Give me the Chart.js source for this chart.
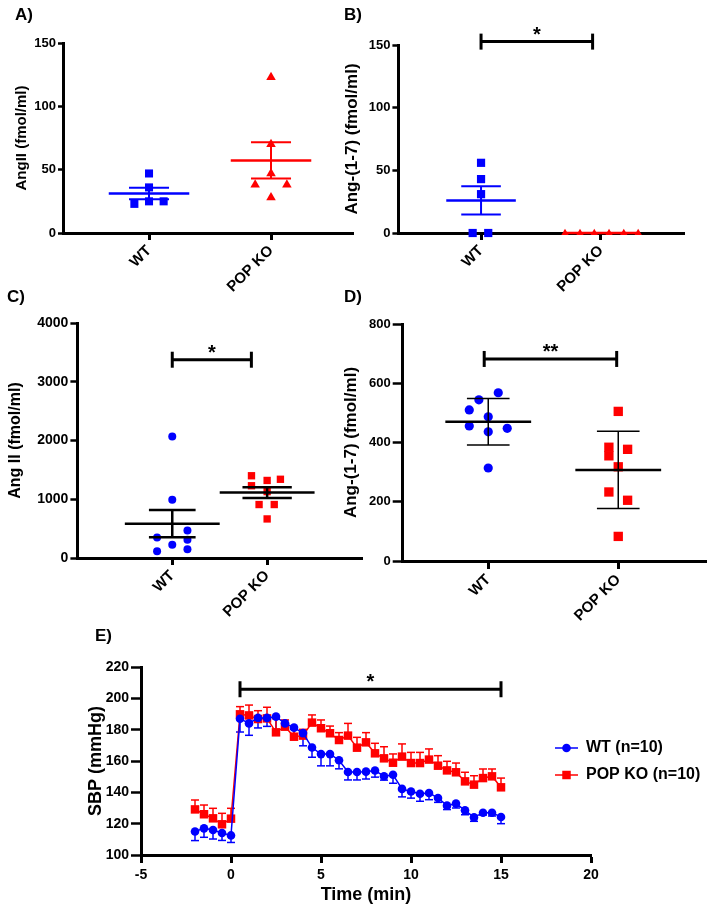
<!DOCTYPE html>
<html>
<head>
<meta charset="utf-8">
<script src="https://cdn.jsdelivr.net/npm/chart.js@4.4.1/dist/chart.umd.min.js"></script>
<style>
  html, body { margin: 0; padding: 0; background: #fff; }
  #wrap { position: relative; width: 713px; height: 913px; overflow: hidden; }
  #wrap canvas { position: absolute; left: 0; top: 0; }
</style>
</head>
<body>
<div id="wrap">
  <canvas id="chartA" width="713" height="913"></canvas>
  <canvas id="chartB" width="713" height="913"></canvas>
  <canvas id="chartC" width="713" height="913"></canvas>
  <canvas id="chartD" width="713" height="913"></canvas>
  <canvas id="chartE" width="713" height="913"></canvas>
</div>
<script>
// groups on the dot plots (x = 1, 2)
const groupLabels = ['WT', 'POP KO'];

// A) plasma AngII
const angII_WT = [47, 36, 23, 25, 25];
const angII_WT_jitter = [0, 0, -0.12, 0, 0.12];
const angII_KO = [123, 70, 47, 38, 38, 28];
const angII_KO_jitter = [0, 0, 0, -0.13, 0.13, 0];

// B) plasma Ang-(1-7)
const ang17_WT = [56, 43, 31, 0, 0];
const ang17_WT_jitter = [0, 0, 0, -0.07, 0.06];
const ang17_KO = [0, 0, 0, 0, 0, 0];
const ang17_KO_jitter = [-0.3, -0.175, -0.056, 0.067, 0.19, 0.31];

// C) Ang II
const angIIc_WT = [2070, 990, 470, 350, 310, 225, 150, 115];
const angIIc_WT_jitter = [0, 0, 0.16, -0.16, 0.16, 0, 0.16, -0.16];
const angIIc_KO = [1400, 1320, 1340, 1230, 1130, 910, 910, 665];
const angIIc_KO_jitter = [-0.165, 0, 0.14, -0.165, 0, -0.085, 0.075, 0];

// D) Ang-(1-7)
const ang17d_WT = [568, 544, 510, 487, 456, 448, 436, 314];
const ang17d_WT_jitter = [0.077, -0.072, -0.146, 0, -0.146, 0.146, 0, 0];
const ang17d_KO = [505, 384, 355, 377, 318, 233, 205, 83];
const ang17d_KO_jitter = [0, -0.072, -0.072, 0.072, 0, -0.072, 0.072, 0];

// E) SBP time course
const timeMin = [-2, -1.5, -1, -0.5, 0, 0.5, 1, 1.5, 2, 2.5, 3, 3.5, 4, 4.5, 5, 5.5, 6, 6.5, 7, 7.5,
  8, 8.5, 9, 9.5, 10, 10.5, 11, 11.5, 12, 12.5, 13, 13.5, 14, 14.5, 15];
const sbpWT = [115, 117, 116, 114, 112.5, 187, 184, 187.5, 187.5, 188.3, 184, 181.3, 177.8, 168.6, 164.4,
  164.4, 160.5, 153, 153, 153.2, 153.9, 150.3, 151.2, 142.2, 140.5, 139.1, 139.6, 136.4, 131.5, 132.8,
  128.5, 124, 127, 127, 124.3];
const sbpWT_sem = [5.8, 5.7, 5.8, 4.7, 4.5, 8.5, 7.6, 6.4, 5.4, 8.5, 3.8, 4.7, 8.1, 6.2, 7.5,
  7.5, 5.5, 5.1, 5.1, 4.7, 4.2, 2.5, 5.4, 5.1, 4.2, 4.8, 4.3, 2.8, 2.5, 2.8,
  2.8, 2.5, 1.5, 2.1, 4.3];
const sbpKO = [129.1, 126, 123.4, 119.6, 123.2, 189.8, 189.1, 186.8, 187.2, 178.3, 181.9, 175.5, 176.2, 184.5, 180.9,
  177.7, 173.4, 176.2, 168.5, 171.9, 164.9, 161.7, 158.9, 162.8, 158.7, 158.7, 160.9, 157, 154, 152.8,
  147, 144.9, 149.1, 150.2, 143.2];
const sbpKO_sem = [6, 5.9, 6.4, 7, 6.6, 4.9, 6.6, 5.3, 7.1, 8.7, 4.3, 4.7, 4, 4.9, 5.3,
  4.6, 4.7, 7.8, 6.6, 6.2, 6.4, 7.4, 5.6, 8.1, 6.8, 6.8, 6.8, 6.4, 5.8, 5.9,
  5.8, 5.7, 5.8, 4.7, 5.9];

const BLUE = '#0000ff';
const RED = '#ff0000';
const FONT = "'Liberation Sans', Arial, Helvetica, sans-serif";

Chart.defaults.font.family = FONT;
Chart.defaults.font.weight = 'bold';
Chart.defaults.color = '#000';

function mean(a) { return a.reduce((s, v) => s + v, 0) / a.length; }
function sd(a) {
  const m = mean(a);
  return Math.sqrt(a.reduce((s, v) => s + (v - m) * (v - m), 0) / (a.length - 1));
}
function sem(a) { return sd(a) / Math.sqrt(a.length); }
function points(vals, at, jitter) { return vals.map((v, i) => ({ x: at + jitter[i], y: v })); }

function segment(ctx, x1, y1, x2, y2) {
  ctx.beginPath();
  ctx.moveTo(x1, y1);
  ctx.lineTo(x2, y2);
  ctx.stroke();
}

function marker(ctx, style, r, x, y) {
  ctx.beginPath();
  if (style === 'rect') {
    const s = r * Math.SQRT1_2;
    ctx.rect(x - s, y - s, 2 * s, 2 * s);
  } else {
    ctx.arc(x, y, r, 0, Math.PI * 2);
  }
  ctx.fill();
}

// mean / error bars, significance brackets, panel letters, legend
const figureExtras = {
  id: 'figureExtras',
  beforeDatasetsDraw(chart, args, o) {
    if (!o.errorBars) return;
    const { ctx, scales: { x, y } } = chart;
    ctx.save();
    o.errorBars.forEach(eb => {
      const ds = chart.data.datasets[eb.dataset];
      ctx.strokeStyle = ds.borderColor;
      ctx.lineWidth = eb.width;
      ds.data.forEach((p, i) => {
        const px = x.getPixelForValue(p.x);
        const p0 = y.getPixelForValue(p.y);
        const p1 = y.getPixelForValue(p.y + eb.dir * eb.values[i]);
        segment(ctx, px, p0, px, p1);
        segment(ctx, px - eb.cap, p1, px + eb.cap, p1);
      });
    });
    ctx.restore();
  },
  afterDatasetsDraw(chart, args, o) {
    const { ctx, scales: { x, y } } = chart;
    ctx.save();
    (o.groups || []).forEach(g => {
      const cx = x.getPixelForValue(g.at);
      ctx.strokeStyle = g.color;
      if (g.err > 0) {
        const yh = y.getPixelForValue(g.mean + g.err);
        const yl = y.getPixelForValue(g.mean - g.err);
        const c1 = x.getPixelForValue(g.at - g.cap);
        const c2 = x.getPixelForValue(g.at + g.cap);
        ctx.lineWidth = g.errWidth;
        segment(ctx, cx, yh, cx, yl);
        segment(ctx, c1, yh, c2, yh);
        segment(ctx, c1, yl, c2, yl);
      }
      const ym = y.getPixelForValue(g.mean);
      ctx.lineWidth = g.meanWidth;
      segment(ctx, x.getPixelForValue(g.at - g.half), ym, x.getPixelForValue(g.at + g.half), ym);
    });
    const b = o.bracket;
    if (b) {
      const x1 = x.getPixelForValue(b.from);
      const x2 = x.getPixelForValue(b.to);
      const by = y.getPixelForValue(b.at);
      ctx.strokeStyle = '#000';
      ctx.lineWidth = 3;
      segment(ctx, x1, by, x2, by);
      segment(ctx, x1, by - 8, x1, by + 8);
      segment(ctx, x2, by - 8, x2, by + 8);
      ctx.fillStyle = '#000';
      ctx.font = 'bold 20px ' + FONT;
      ctx.textAlign = 'center';
      ctx.textBaseline = 'alphabetic';
      ctx.fillText(b.label, (x1 + x2) / 2, by - 1);
    }
    ctx.restore();
  },
  afterDraw(chart, args, o) {
    const ctx = chart.ctx;
    ctx.save();
    if (o.caption) {
      ctx.fillStyle = '#000';
      ctx.font = 'bold 17px ' + FONT;
      ctx.textAlign = 'left';
      ctx.textBaseline = 'alphabetic';
      ctx.fillText(o.caption.text, o.caption.x, o.caption.y);
    }
    (o.legend || []).forEach(item => {
      const ds = chart.data.datasets[item.dataset];
      ctx.strokeStyle = ds.borderColor;
      ctx.fillStyle = ds.pointBackgroundColor;
      ctx.lineWidth = ds.borderWidth;
      segment(ctx, item.x, item.y, item.x + 23, item.y);
      marker(ctx, ds.pointStyle, ds.pointRadius, item.x + 11.5, item.y);
      ctx.fillStyle = '#000';
      ctx.font = 'bold 16px ' + FONT;
      ctx.textAlign = 'left';
      ctx.textBaseline = 'middle';
      ctx.fillText(ds.label, item.x + 31, item.y);
    });
    ctx.restore();
  }
};

function valueAxis(min, max, step, title, titleSize, width, tickLen, tickFont) {
  return {
    min: min, max: max,
    ticks: { stepSize: step, font: { size: tickFont, weight: 'bold' }, color: '#000', padding: 2,
      callback: v => String(v) },
    grid: { drawOnChartArea: false, drawTicks: true, tickLength: tickLen, tickWidth: 2.5, tickColor: '#000' },
    border: { display: true, width: 3, color: '#000' },
    title: { display: true, text: title, color: '#000', padding: 0,
      font: { size: titleSize, weight: 'bold', lineHeight: 1.2 } },
    afterFit: s => { s.width = width; }
  };
}

function groupAxis(min, max, tickLen) {
  return {
    type: 'linear', min: min, max: max,
    afterBuildTicks: s => { s.ticks = groupLabels.map((_, i) => ({ value: i + 1 })); },
    ticks: { autoSkip: false, minRotation: 45, maxRotation: 45, padding: 2, color: '#000',
      font: { size: 15, weight: 'bold' }, callback: v => groupLabels[v - 1] },
    grid: { drawOnChartArea: false, drawTicks: true, tickLength: tickLen, tickWidth: 3, tickColor: '#000' },
    border: { display: true, width: 3, color: '#000' },
    afterFit: s => { s.height = 60; }
  };
}

function dotSet(vals, at, jitter, style, r, color) {
  return {
    data: points(vals, at, jitter), pointStyle: style, pointRadius: r,
    pointBackgroundColor: color, borderColor: color, pointBorderWidth: 0, showLine: false, clip: false
  };
}

function dotPlot(id, cfg) {
  return new Chart(document.getElementById(id), {
    type: 'scatter',
    data: { datasets: cfg.datasets },
    options: {
      responsive: false, animation: false, events: [],
      layout: { padding: cfg.padding },
      plugins: { legend: { display: false }, tooltip: { enabled: false }, figureExtras: cfg.extras },
      scales: { x: cfg.x, y: cfg.y }
    },
    plugins: [figureExtras]
  });
}

// A
dotPlot('chartA', {
  datasets: [
    dotSet(angII_WT, 1, angII_WT_jitter, 'rect', 5.7, BLUE),
    dotSet(angII_KO, 2, angII_KO_jitter, 'triangle', 5.5, RED)
  ],
  padding: { left: 13, top: 43, right: 360, bottom: 913 - 233 - 60 },
  x: groupAxis(0.295, 2.672, 7),
  y: valueAxis(0, 150, 50, 'AngII (fmol/ml)', 15, 50, 5, 13),
  extras: {
    caption: { text: 'A)', x: 15, y: 20 },
    groups: [
      { at: 1, mean: mean(angII_WT), err: sem(angII_WT), color: BLUE, half: 0.33, cap: 0.164, meanWidth: 2.5, errWidth: 2 },
      { at: 2, mean: mean(angII_KO), err: sem(angII_KO), color: RED, half: 0.33, cap: 0.164, meanWidth: 2.5, errWidth: 2 }
    ]
  }
});

// B
dotPlot('chartB', {
  datasets: [
    dotSet(ang17_WT, 1, ang17_WT_jitter, 'rect', 5.8, BLUE),
    dotSet(ang17_KO, 2, ang17_KO_jitter, 'triangle', 4.2, RED)
  ],
  padding: { left: 342.4, top: 45, right: 29, bottom: 913 - 233 - 60 },
  x: groupAxis(0.311, 2.692, 7),
  y: valueAxis(0, 150, 50, 'Ang-(1-7) (fmol/ml)', 17, 56, 6, 13),
  extras: {
    caption: { text: 'B)', x: 344, y: 20 },
    groups: [
      { at: 1, mean: mean(ang17_WT), err: sem(ang17_WT), color: BLUE, half: 0.29, cap: 0.165, meanWidth: 2.5, errWidth: 2 },
      { at: 2, mean: mean(ang17_KO), err: sem(ang17_KO), color: RED, half: 0.3, cap: 0.165, meanWidth: 2.5, errWidth: 2 }
    ],
    bracket: { from: 1, to: 1.93, at: 152.7, label: '*' }
  }
});

// C
dotPlot('chartC', {
  datasets: [
    dotSet(angIIc_WT, 1, angIIc_WT_jitter, 'circle', 4, BLUE),
    dotSet(angIIc_KO, 2, angIIc_KO_jitter, 'rect', 5.2, RED)
  ],
  padding: { left: 6.4, top: 323, right: 351, bottom: 913 - 558 - 60 },
  x: groupAxis(0, 3, 7),
  y: valueAxis(0, 4000, 1000, 'Ang II (fmol/ml)', 16, 71, 7, 14),
  extras: {
    caption: { text: 'C)', x: 7, y: 302 },
    groups: [
      { at: 1, mean: mean(angIIc_WT), err: sem(angIIc_WT), color: '#000', half: 0.5, cap: 0.246, meanWidth: 2.5, errWidth: 2.5 },
      { at: 2, mean: mean(angIIc_KO), err: sem(angIIc_KO), color: '#000', half: 0.5, cap: 0.26, meanWidth: 2.5, errWidth: 2.5 }
    ],
    bracket: { from: 1, to: 1.834, at: 3375, label: '*' }
  }
});

// D
dotPlot('chartD', {
  datasets: [
    dotSet(ang17d_WT, 1, ang17d_WT_jitter, 'circle', 4.6, BLUE),
    dotSet(ang17d_KO, 2, ang17d_KO_jitter, 'rect', 6.6, RED)
  ],
  padding: { left: 341.4, top: 324, right: 7, bottom: 913 - 561 - 60 },
  x: groupAxis(0.342, 2.675, 8),
  y: valueAxis(0, 800, 200, 'Ang-(1-7) (fmol/ml)', 17, 61.3, 10, 13),
  extras: {
    caption: { text: 'D)', x: 344, y: 302 },
    groups: [
      { at: 1, mean: mean(ang17d_WT), err: sd(ang17d_WT), color: '#000', half: 0.33, cap: 0.164, meanWidth: 2.5, errWidth: 1.5 },
      { at: 2, mean: mean(ang17d_KO), err: sd(ang17d_KO), color: '#000', half: 0.33, cap: 0.164, meanWidth: 2.5, errWidth: 1.5 }
    ],
    bracket: { from: 0.969, to: 1.988, at: 682, label: '**' }
  }
});

// E
new Chart(document.getElementById('chartE'), {
  type: 'scatter',
  data: {
    datasets: [
      {
        label: 'WT (n=10)', data: timeMin.map((t, i) => ({ x: t, y: sbpWT[i] })),
        showLine: true, borderColor: BLUE, borderWidth: 1.5, pointStyle: 'circle', pointRadius: 4.3,
        pointBackgroundColor: BLUE, pointBorderWidth: 0, clip: false
      },
      {
        label: 'POP KO (n=10)', data: timeMin.map((t, i) => ({ x: t, y: sbpKO[i] })),
        showLine: true, borderColor: RED, borderWidth: 1.5, pointStyle: 'rect', pointRadius: 6,
        pointBackgroundColor: RED, pointBorderWidth: 0, clip: false
      }
    ]
  },
  options: {
    responsive: false, animation: false, events: [],
    layout: { padding: { left: 85.2, top: 667, right: 122, bottom: 7.2 } },
    plugins: {
      legend: { display: false }, tooltip: { enabled: false },
      figureExtras: {
        caption: { text: 'E)', x: 95, y: 641 },
        errorBars: [
          { dataset: 0, values: sbpWT_sem, dir: -1, cap: 4, width: 1.5 },
          { dataset: 1, values: sbpKO_sem, dir: 1, cap: 4, width: 1.5 }
        ],
        bracket: { from: 0.5, to: 15, at: 205.8, label: '*' },
        legend: [{ dataset: 0, x: 555, y: 748 }, { dataset: 1, x: 555, y: 775 }]
      }
    },
    scales: {
      x: {
        type: 'linear', min: -5, max: 20,
        ticks: { stepSize: 5, maxRotation: 0, padding: 4, color: '#000', font: { size: 14, weight: 'bold' } },
        grid: { drawOnChartArea: false, drawTicks: true, tickLength: 8, tickWidth: 3, tickColor: '#000' },
        border: { display: true, width: 3, color: '#000' },
        title: { display: true, text: 'Time (min)', color: '#000', padding: 0,
          font: { size: 18, weight: 'bold', lineHeight: 1.2 } },
        afterFit: s => { s.height = 50.8; }
      },
      y: valueAxis(100, 220, 20, 'SBP (mmHg)', 18, 55.8, 10, 14)
    }
  },
  plugins: [figureExtras]
});
</script>
</body>
</html>
